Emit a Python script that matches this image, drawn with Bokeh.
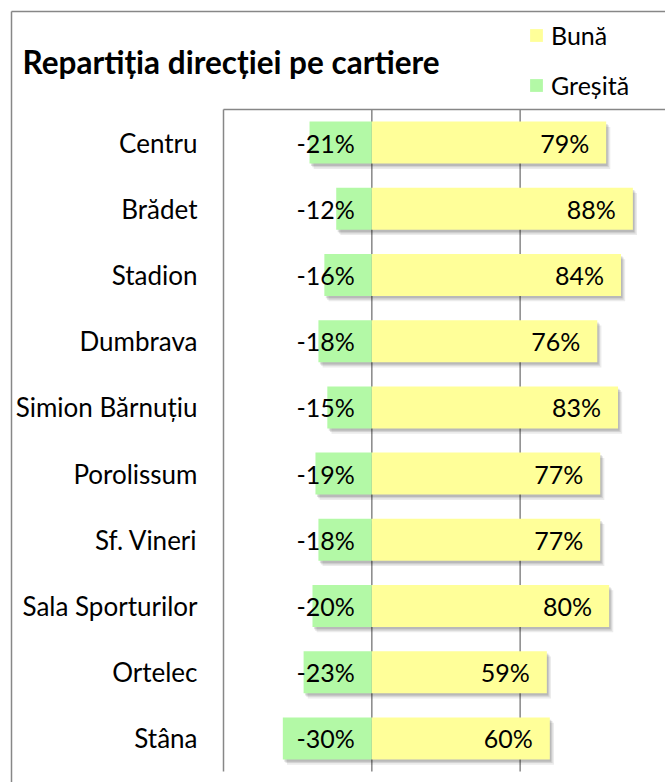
from bokeh.plotting import figure
from bokeh.models import ColumnDataSource, Range1d, Legend, LegendItem
from bokeh.transform import dodge
from bokeh.core.properties import value
from bokeh.embed import file_html
from bokeh.resources import INLINE

# ---- data ----
categories = ["Centru", "Brădet", "Stadion", "Dumbrava", "Simion Bărnuțiu",
              "Porolissum", "Sf. Vineri", "Sala Sporturilor", "Ortelec", "Stâna"]
buna = [79, 88, 84, 76, 83, 77, 77, 80, 59, 60]
gresita = [21, 12, 16, 18, 15, 19, 18, 20, 23, 30]
grid_ticks = [0, 50]
title_text = "Repartiția direcției pe cartiere"
series_names = ["Bună", "Greșită"]

YELLOW = "#FFFF99"
GREEN = "#B3F9A6"
GRAY = "#878787"
FONT = "Lato"

W, H = 665, 782
# plot area (in pixels) and value range shown in it
PL, PT, PB = 223, 109, 771
X0, X1 = -50, 99
ncat = len(categories)
ux = (W - PL) / (X1 - X0)          # px per percent
uy = (PB - PT) / ncat              # px per row
def xd(px):
    return X0 + (px - PL) / ux
def yd(py):
    return ncat + (PT - py) / uy

ypos = [ncat - i - 0.5 for i in range(ncat)]
src = ColumnDataSource(dict(
    cat=categories, y=ypos,
    buna=buna,
    neg=[-g for g in gresita],
    zero=[0] * ncat,
    buna_lbl=[f"{b}%" for b in buna],
    neg_lbl=[f"-{g}%" for g in gresita],
))

p = figure(width=W, height=H, output_backend="svg", toolbar_location=None,
           x_range=Range1d(xd(0), xd(W)), y_range=Range1d(yd(H), yd(0)),
           x_axis_location=None, y_axis_location=None,
           min_border_left=0, min_border_right=0, min_border_top=0, min_border_bottom=0)
p.outline_line_color = None
p.grid.visible = False

# grid lines and axis line of the plot area
p.segment(x0=grid_ticks, x1=grid_ticks, y0=0, y1=ncat, line_color=GRAY, line_width=1.5)
p.segment(x0=[X0], x1=[X0], y0=[0], y1=[ncat], line_color=GRAY, line_width=1.5)
p.segment(x0=[X0], x1=[X1 + 10], y0=[ncat], y1=[ncat], line_color=GRAY, line_width=1.5)
# outer chart border (top + left)
p.segment(x0=[xd(11), xd(11)], x1=[xd(W + 10), xd(11)], y0=[yd(11), yd(11)], y1=[yd(11), yd(H + 10)],
          line_color=GRAY, line_width=1.5)

BH = 0.635
# soft shadows
for dx, dy, a in [(1.4, -0.08, 0.08), (0.9, -0.055, 0.10), (0.5, -0.035, 0.12)]:
    p.hbar(y=dodge("y", dy), left=dodge("neg", dx), right=dodge("zero", dx),
           height=BH, source=src, fill_color="black", fill_alpha=a, line_color=None)
    p.hbar(y=dodge("y", dy), left=dodge("zero", dx), right=dodge("buna", dx),
           height=BH, source=src, fill_color="black", fill_alpha=a, line_color=None)

r_bad = p.hbar(y="y", left="neg", right="zero", height=BH, source=src,
               fill_color=GREEN, line_color=None)
r_good = p.hbar(y="y", left="zero", right="buna", height=BH, source=src,
                fill_color=YELLOW, line_color=None)

p.text(x="buna", y="y", text="buna_lbl", x_offset=-17, source=src,
       text_align="right", text_baseline="middle", text_font=value(FONT),
       text_font_size="25px", text_color="#000000")
p.text(x="zero", y="y", text="neg_lbl", x_offset=-17, source=src,
       text_align="right", text_baseline="middle", text_font=value(FONT),
       text_font_size="25px", text_color="#000000")

# category labels
p.text(x=X0, y="y", text="cat", x_offset=-26, source=src,
       text_align="right", text_baseline="middle", text_font=value(FONT),
       text_font_size="26px", text_color="#000000")

# chart title
p.text(x=[xd(22)], y=[yd(61)], text=[title_text],
       text_align="left", text_baseline="middle", text_font=value(FONT),
       text_font_style="bold", text_font_size="31.5px", text_color="#000000")

legend = Legend(items=[LegendItem(label=series_names[0], renderers=[r_good]),
                       LegendItem(label=series_names[1], renderers=[r_bad])],
                location=(528, H - 100), orientation="vertical",
                glyph_width=16, glyph_height=16, label_standoff=7, spacing=20,
                padding=0, margin=0, border_line_color=None, background_fill_alpha=0,
                label_text_font=FONT, label_text_font_size="25px", label_text_color="#000000")
p.add_layout(legend, "center")

open("out.html", "w").write(file_html(p, INLINE))
